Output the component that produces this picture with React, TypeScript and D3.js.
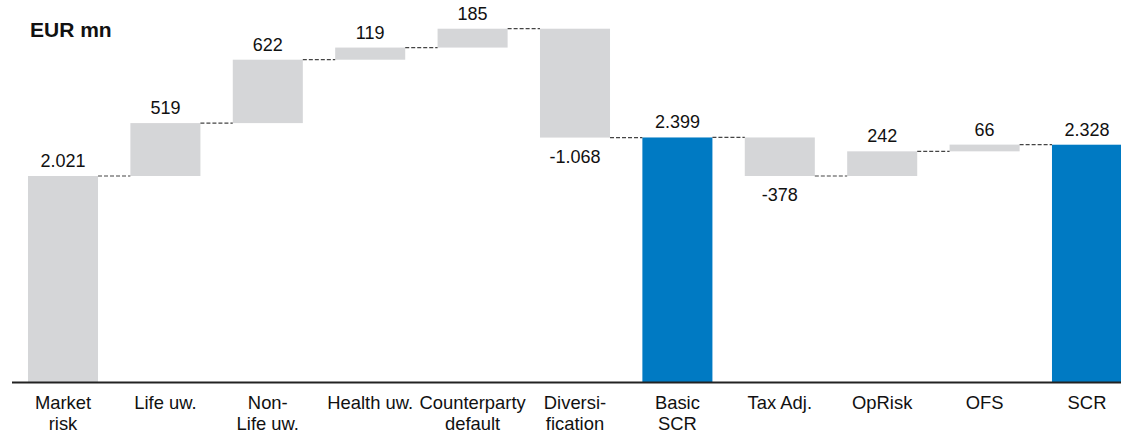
import React from "react";
import * as d3 from "d3";

const categories: string[][] = [
  ["Market", "risk"],
  ["Life uw."],
  ["Non-", "Life uw."],
  ["Health uw."],
  ["Counterparty", "default"],
  ["Diversi-", "fication"],
  ["Basic", "SCR"],
  ["Tax Adj."],
  ["OpRisk"],
  ["OFS"],
  ["SCR"],
];
const values: number[] = [2021, 519, 622, 119, 185, -1068, 2399, -378, 242, 66, 2328];
const isTotal: boolean[] = [false, false, false, false, false, false, true, false, false, false, true];
const valueLabels: string[] = ["2.021", "519", "622", "119", "185", "-1.068", "2.399", "-378", "242", "66", "2.328"];
const unitLabel = "EUR mn";

const W = 1121;
const H = 436;
const baseY = 382;
const FONT = "'Liberation Sans', Arial, sans-serif";

export default function App() {
  const segs: { start: number; end: number }[] = [];
  let running = 0;
  values.forEach((v, i) => {
    if (isTotal[i]) {
      segs.push({ start: 0, end: v });
      running = v;
    } else {
      segs.push({ start: running, end: running + v });
      running += v;
    }
  });

  const x = d3
    .scaleBand<number>()
    .domain(values.map((_, i) => i))
    .range([11.8, 1138.2])
    .paddingInner(0.316)
    .paddingOuter(0.158);
  const y = d3.scaleLinear().domain([0, 2021]).range([baseY, 176]);

  const bw = x.bandwidth();

  return (
    <svg
      width={W}
      height={H}
      style={{ position: "absolute", left: 0, top: 0, background: "#fff" }}
      fontFamily={FONT}
    >
      <text x={30} y={37} fontSize={21} fontWeight="bold" fill="#111">
        {unitLabel}
      </text>
      {segs.map((s, i) => {
        const top = y(Math.max(s.start, s.end));
        const bot = y(Math.min(s.start, s.end));
        return (
          <rect
            key={"b" + i}
            x={x(i)!}
            y={top}
            width={bw}
            height={bot - top}
            fill={isTotal[i] ? "#007AC3" : "#D5D6D8"}
          />
        );
      })}
      {segs.slice(0, -1).map((s, i) => {
        const lvl = y(s.end);
        return (
          <line
            key={"c" + i}
            x1={x(i)! + bw}
            x2={x(i + 1)!}
            y1={lvl}
            y2={lvl}
            stroke="#444"
            strokeWidth={1.2}
            strokeDasharray="4,2"
          />
        );
      })}
      {segs.map((s, i) => {
        const cx = x(i)! + bw / 2;
        const neg = values[i] < 0;
        const ty = neg ? y(Math.min(s.start, s.end)) + 25 : y(Math.max(s.start, s.end)) - 9;
        return (
          <text key={"v" + i} x={cx} y={ty} textAnchor="middle" fontSize={18} fill="#111">
            {valueLabels[i]}
          </text>
        );
      })}
      <line x1={12} x2={W} y1={baseY + 0.5} y2={baseY + 0.5} stroke="#222" strokeWidth={2} />
      {categories.map((lines, i) => {
        const cx = x(i)! + bw / 2;
        return (
          <text key={"l" + i} x={cx} y={409} textAnchor="middle" fontSize={18.4} fill="#111">
            {lines.map((t, j) => (
              <tspan key={j} x={cx} dy={j === 0 ? 0 : 21}>
                {t}
              </tspan>
            ))}
          </text>
        );
      })}
    </svg>
  );
}
